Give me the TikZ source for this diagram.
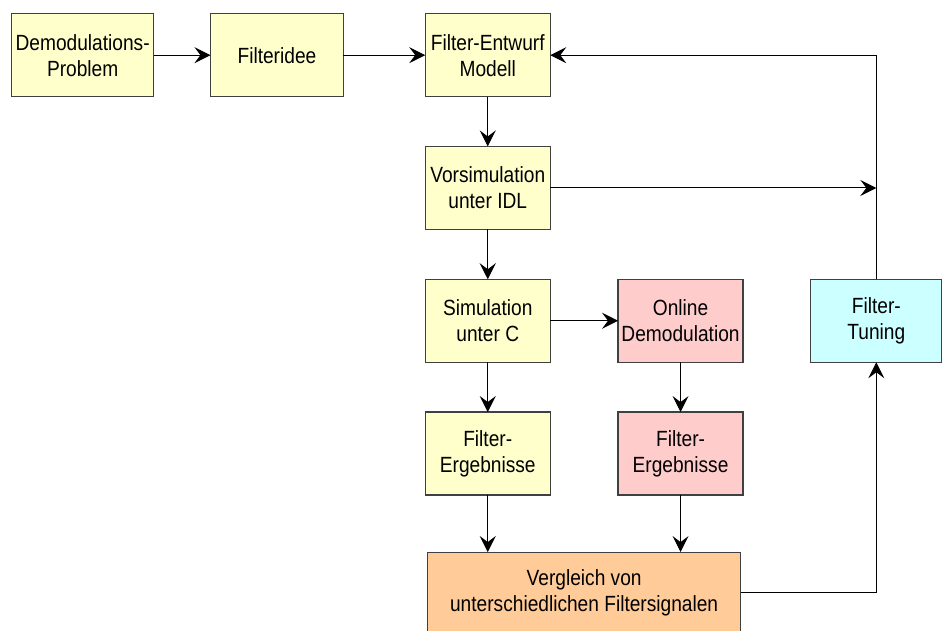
\documentclass[tikz,border=0pt]{standalone}
\usepackage{fontspec}
\setmainfont{Liberation Sans}[FakeStretch=0.87]
\usepackage{tikz}
\usetikzlibrary{matrix,arrows.meta}
\usetikzlibrary{calc}

\definecolor{boxyellow}{HTML}{FFFFCC}
\definecolor{boxpink}{HTML}{FFCCCC}
\definecolor{boxcyan}{HTML}{CCFFFF}
\definecolor{boxorange}{HTML}{FFCC99}

\tikzset{
	box/.style={draw=black!75, line width=1.3pt, fill=boxyellow, minimum width=125pt, minimum height=83pt,
		inner sep=1pt, align=center, anchor=center, font=\fontsize{22}{26}\selectfont},
	pinkbox/.style={box, fill=boxpink},
	cyanbox/.style={box, fill=boxcyan, minimum width=131pt},
	orangebox/.style={box, fill=boxorange, minimum width=313pt, minimum height=80pt}
}

\begin{document}
\begin{tikzpicture}[>={Stealth[length=16pt,width=16pt,inset=6pt]}, line width=1pt]
		\useasboundingbox (0,0) rectangle (942pt,-630pt);
		\matrix (m) [row sep=48.5pt, column sep=55.5pt, inner sep=0pt, outer sep=0pt, anchor=north west] at (11pt,-13pt)
		{
			\node[box, minimum width=142pt] (problem) {Demodulations-\\Problem}; &
			\node[box, minimum width=133pt] (idee) {Filteridee}; &[25pt]
			\node[box] (entwurf) {Filter-Entwurf\\Modell}; &[11pt] &[11pt] \\
			& & \node[box] (vorsim) {Vorsimulation\\unter IDL}; & & \\
			& & \node[box] (sim) {Simulation\\unter C}; &
			\node[pinkbox] (online) {Online\\Demodulation}; &
			\node[cyanbox] (tuning) {Filter-\\Tuning}; \\
			& & \node[box] (ergsim) {Filter-\\Ergebnisse}; &
			\node[pinkbox] (ergonline) {Filter-\\Ergebnisse}; & \\
		};
		\node[orangebox, anchor=north] (vgl) at ($(ergsim.south)!0.5!(ergonline.south)+(0,-57pt)$) {Vergleich von\\unterschiedlichen Filtersignalen};
		\path[->]
		(problem) edge (idee)
		(idee) edge (entwurf)
		(entwurf) edge (vorsim)
		(vorsim) edge (sim)
		edge (vorsim -| tuning)
		(sim) edge (online)
		edge (ergsim)
		(online) edge (ergonline)
		(ergsim) edge (ergsim |- vgl.north)
		(ergonline) edge (ergonline |- vgl.north)
		;
		\draw[->] (vgl) -| (tuning);
		\draw[->] (tuning) |- (entwurf);
		\end{tikzpicture}
\end{document}
